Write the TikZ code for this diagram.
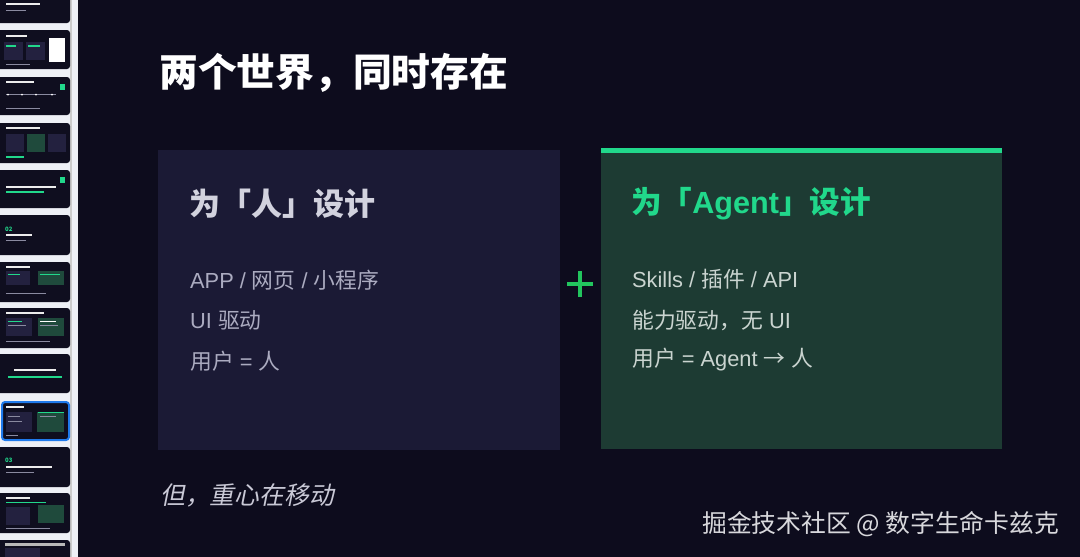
\documentclass[tikz,border=0pt]{standalone}
\usepackage{fontspec}
\setmainfont{Noto Sans CJK SC}
\newfontfamily\cjkslant{Noto Sans CJK SC}[FakeSlant=0.2]
\newfontfamily\lat{Liberation Sans}
\definecolor{bgc}{HTML}{0D0C1D}
\definecolor{leftbox}{HTML}{1B1A35}
\definecolor{rightbox}{HTML}{1D3B33}
\definecolor{accent}{HTML}{21D88B}
\definecolor{plusc}{HTML}{22C55E}
\definecolor{lefttitle}{HTML}{D2D2DE}
\definecolor{leftbody}{HTML}{ABABC0}
\definecolor{rightbody}{HTML}{CAD4D0}
\definecolor{slantc}{HTML}{C9C9D6}
\definecolor{wmark}{HTML}{D8D8DC}
\definecolor{sidebg}{HTML}{EEF0F6}
\definecolor{thumb}{HTML}{0F0E1F}
\definecolor{thumbline}{HTML}{8A8AA0}
\definecolor{selblue}{HTML}{1F7AEC}
\definecolor{tpurple}{HTML}{23213F}
\definecolor{tgreen}{HTML}{1F4A3C}
\begin{document}
\begin{tikzpicture}[x=1pt,y=-1pt,
  txt/.style={anchor=west,inner sep=0pt},
  body/.style={txt,font=\fontsize{21.8}{21.8}\selectfont},
  thumbbox/.style={fill=thumb,rounded corners=3pt},
  tbar/.style={fill=thumbline},
  wbar/.style={fill=white!85!gray},
  gbar/.style={fill=accent}]
\useasboundingbox (0,0) rectangle (1080,557);
\fill[bgc] (0,0) rectangle (1080,557);
% sidebar
\fill[sidebg] (0,0) rectangle (78,557);
\fill[gray!40] (70,0) rectangle (72,557);
% thumbnails
\fill[thumbbox] (-5,-15) rectangle (70,23);
\fill[wbar] (6,3) rectangle (40,5);
\fill[tbar] (6,10) rectangle (26,11);
\fill[thumbbox] (-5,30) rectangle (70,69);
\fill[wbar] (6,35) rectangle (27,37);
\fill[tpurple] (4,42) rectangle (23,60);
\fill[tpurple] (26,42) rectangle (45,60);
\fill[gbar] (6,45) rectangle (16,47);
\fill[gbar] (28,45) rectangle (40,47);
\fill[white] (49,38) rectangle (65,62);
\fill[tbar] (6,64) rectangle (30,65);
\fill[thumbbox] (-5,77) rectangle (70,115);
\fill[wbar] (6,81) rectangle (34,83);
\fill[gbar] (60,84) rectangle (65,90);
\fill[tbar] (6,94) rectangle (56,95);
\foreach \xx in {8,22,36,52} {\fill[white] (\xx,94.5) circle (1);}
\fill[tbar] (6,108) rectangle (40,109);
\fill[thumbbox] (-5,123) rectangle (70,163);
\fill[wbar] (6,127) rectangle (40,129);
\fill[tpurple] (6,134) rectangle (24,152);
\fill[tgreen] (27,134) rectangle (45,152);
\fill[tpurple] (48,134) rectangle (66,152);
\fill[gbar] (6,156) rectangle (24,157.5);
\fill[thumbbox] (-5,170) rectangle (70,208);
\fill[wbar] (6,186) rectangle (56,188);
\fill[gbar] (6,191) rectangle (44,192.5);
\fill[gbar] (60,177) rectangle (65,183);
\fill[thumbbox] (-5,215) rectangle (70,255);
\node[txt,text=accent,font=\bfseries\fontsize{6}{6}\selectfont] (t02) at (5,229) {02};
\fill[wbar] (6,234) rectangle (32,236);
\fill[tbar] (6,240) rectangle (26,241);
\fill[thumbbox] (-5,262) rectangle (70,302);
\fill[wbar] (6,266) rectangle (30,268);
\fill[tpurple] (6,271) rectangle (30,285);
\fill[tgreen] (38,271) rectangle (64,285);
\fill[gbar] (8,274) rectangle (20,275);
\fill[gbar] (40,274) rectangle (60,275);
\fill[tbar] (6,293) rectangle (46,294);
\fill[thumbbox] (-5,308) rectangle (70,348);
\fill[wbar] (6,312) rectangle (44,314);
\fill[tpurple] (6,318) rectangle (32,336);
\fill[tgreen] (38,318) rectangle (64,336);
\fill[gbar] (8,321) rectangle (22,322);
\fill[white] (40,321) rectangle (56,322);
\fill[tbar] (8,325) rectangle (26,326);
\fill[tbar] (40,325) rectangle (58,326);
\fill[tbar] (6,341) rectangle (50,342);
\fill[thumbbox] (-5,354) rectangle (70,393);
\fill[wbar] (14,369) rectangle (56,371);
\fill[gbar] (8,376) rectangle (62,377.5);
\fill[thumb,rounded corners=3pt,draw=selblue,line width=2pt] (2,402) rectangle (69,440);
\fill[wbar] (6,406) rectangle (24,408);
\fill[tpurple] (6,412) rectangle (32,432);
\fill[tgreen] (37,412) rectangle (64,432);
\fill[tbar] (8,416) rectangle (20,417);
\fill[tbar] (8,421) rectangle (22,422);
\fill[gbar] (38,412) rectangle (64,412.8);
\fill[tbar] (40,416) rectangle (56,417);
\fill[tbar] (6,435) rectangle (18,436);
\fill[thumbbox] (-5,447) rectangle (70,487);
\node[txt,text=accent,font=\bfseries\fontsize{6}{6}\selectfont] (t03) at (5,460) {03};
\fill[wbar] (6,466) rectangle (52,468);
\fill[tbar] (6,472) rectangle (34,473);
\fill[thumbbox] (-5,493) rectangle (70,533);
\fill[wbar] (6,497) rectangle (30,499);
\fill[gbar] (6,502) rectangle (46,503);
\fill[tpurple] (6,507) rectangle (30,525);
\fill[tgreen] (38,505) rectangle (64,523);
\fill[tbar] (6,528) rectangle (50,529);
\fill[thumbbox] (-5,540) rectangle (70,570);
\fill[gray!55] (5,543) rectangle (65,546);
\fill[tpurple] (5,548) rectangle (40,557);
% main boxes
\fill[leftbox] (158,150) rectangle (560,450);
\fill[rightbox] (601,150) rectangle (1002,449);
\fill[accent] (601,148) rectangle (1002,153);
% title
\node[txt,text=white,font=\bfseries\fontsize{38.8}{38.8}\selectfont] (title) at (159,73) {两个世界，同时存在};
% left box text
\node[txt,text=lefttitle,font=\bfseries\fontsize{31}{31}\selectfont] (lt) at (189,204) {为「人」设计};
\node[body,text=leftbody] (l1) at (190,280) {{\lat APP / }网页{\lat\ / }小程序};
\node[body,text=leftbody] (l2) at (190,320) {{\lat UI }驱动};
\node[body,text=leftbody] (l3) at (190,361) {用户{\lat\ = }人};
% right box text
\node[txt,text=accent,font=\bfseries\fontsize{30.6}{30.6}\selectfont] (rt) at (631,204) {为「{\lat Agent}」设计};
\node[body,text=rightbody] (r1) at (632,279) {{\lat Skills / }插件{\lat\ / API}};
\node[body,text=rightbody] (r2) at (632,320) {能力驱动，无{\lat\ UI}};
\node[body,text=rightbody] (r3) at (632,360) {用户{\lat\ = Agent }→{\lat\ }人};
% plus
\coordinate (pc) at (580,284);
\draw[plusc,line width=3.5pt] ([xshift=-13pt]pc) -- ([xshift=13pt]pc);
\draw[plusc,line width=3.5pt] ([yshift=-13pt]pc) -- ([yshift=13pt]pc);
% bottom
\node[txt,text=slantc,font=\cjkslant\fontsize{24.8}{24.8}\selectfont] (shift) at (160,495) {但，重心在移动};
\node[txt,text=wmark,font=\fontsize{24.8}{24.8}\selectfont] (wm) at (702,524) {掘金技术社区 @ 数字生命卡兹克};
\end{tikzpicture}
\end{document}
